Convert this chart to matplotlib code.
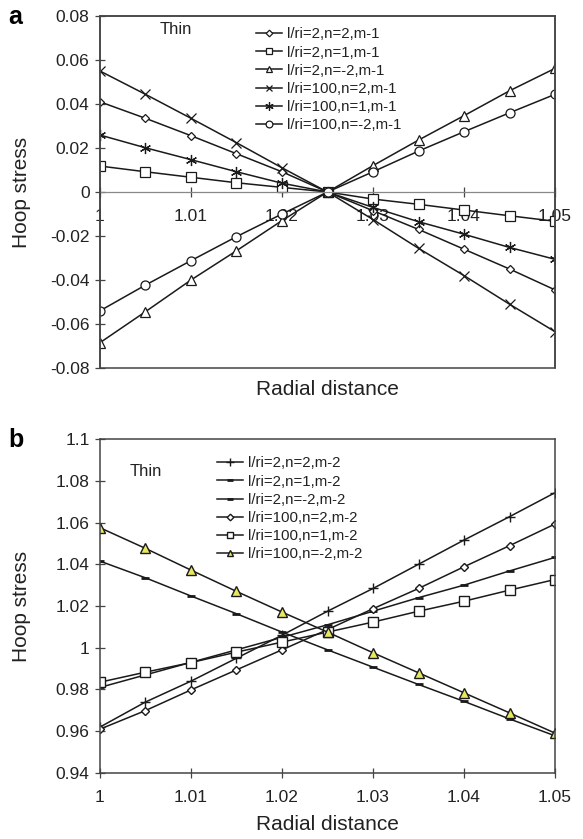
import numpy as np
import matplotlib.pyplot as plt
from matplotlib.patches import Rectangle

plt.rcParams['font.family'] = ['Liberation Sans', 'DejaVu Sans']

# radial positions (shared by both panels)
r = [1.0, 1.005, 1.01, 1.015, 1.02, 1.025, 1.03, 1.035, 1.04, 1.045, 1.05]

# panel a: hoop stress, m-1
a_labels = ['l/ri=2,n=2,m-1', 'l/ri=2,n=1,m-1', 'l/ri=2,n=-2,m-1',
            'l/ri=100,n=2,m-1', 'l/ri=100,n=1,m-1', 'l/ri=100,n=-2,m-1']
a_2_n2 = [0.041, 0.0335, 0.0256, 0.0174, 0.0092, 0.0, -0.0085, -0.017, -0.026, -0.035, -0.0445]
a_2_n1 = [0.0118, 0.0092, 0.0067, 0.0042, 0.0021, 0.0, -0.0032, -0.0056, -0.0082, -0.0108, -0.0133]
a_2_nm2 = [-0.0685, -0.0544, -0.040, -0.0267, -0.013, 0.0, 0.012, 0.0236, 0.0347, 0.046, 0.0562]
a_100_n2 = [0.055, 0.0444, 0.0335, 0.0224, 0.011, 0.0, -0.0125, -0.0256, -0.038, -0.051, -0.0635]
a_100_n1 = [0.0259, 0.0201, 0.0147, 0.0092, 0.004, 0.0, -0.007, -0.0135, -0.0192, -0.0252, -0.0306]
a_100_nm2 = [-0.054, -0.0423, -0.0312, -0.0203, -0.0100, 0.0, 0.0092, 0.0186, 0.0274, 0.036, 0.0444]

# panel b: hoop stress, m-2
b_labels = ['l/ri=2,n=2,m-2', 'l/ri=2,n=1,m-2', 'l/ri=2,n=-2,m-2',
            'l/ri=100,n=2,m-2', 'l/ri=100,n=1,m-2', 'l/ri=100,n=-2,m-2']
b_2_n2 = [0.962, 0.974, 0.984, 0.995, 1.006, 1.0175, 1.0284, 1.040, 1.0516, 1.0628, 1.0743]
b_2_n1 = [0.981, 0.987, 0.993, 0.999, 1.005, 1.011, 1.0175, 1.024, 1.030, 1.0368, 1.0433]
b_2_nm2 = [1.0415, 1.0335, 1.0248, 1.0163, 1.0075, 0.999, 0.9907, 0.9824, 0.9743, 0.9659, 0.9578]
b_100_n2 = [0.961, 0.9699, 0.9798, 0.9894, 0.999, 1.0087, 1.0187, 1.0284, 1.0388, 1.0489, 1.0593]
b_100_n1 = [0.9835, 0.9883, 0.9929, 0.9979, 1.0027, 1.0075, 1.0123, 1.0175, 1.0223, 1.0276, 1.0327]
b_100_nm2 = [1.0575, 1.0476, 1.0372, 1.027, 1.0171, 1.0075, 0.9976, 0.988, 0.9784, 0.9688, 0.9591]

fig = plt.figure(figsize=(5.83, 8.39), dpi=100)
ax1 = fig.add_axes([0.1715, 0.5614, 0.7805, 0.4195])
ax2 = fig.add_axes([0.1715, 0.0787, 0.7805, 0.398])

asterisk = (6, 2, 0)
a_series = [a_2_n2, a_2_n1, a_2_nm2, a_100_n2, a_100_n1, a_100_nm2]
a_marks = [('D', 4.5), ('s', 6.5), ('^', 6.5), ('x', 6.5), (asterisk, 8), ('o', 6.5)]
for y, lab, (m, ms) in zip(a_series, a_labels, a_marks):
    ax1.plot(r, y, color='#1a1a1a', lw=1.1, marker=m, ms=ms, mfc='white',
             mec='#1a1a1a', mew=0.9, label=lab)

b_series = [b_2_n2, b_2_n1, b_2_nm2, b_100_n2, b_100_n1, b_100_nm2]
b_marks = [('+', 7, 'white'), ('_', 6, 'white'), ('_', 6, 'white'),
           ('D', 4.5, 'white'), ('s', 6.5, 'white'), ('^', 6.5, '#e8e860')]
for y, lab, (m, ms, fc) in zip(b_series, b_labels, b_marks):
    ax2.plot(r, y, color='#1a1a1a', lw=1.1, marker=m, ms=ms, mfc=fc,
             mec='#1a1a1a', mew=1.0 if m != '_' else 2.0, label=lab)

for ax in (ax1, ax2):
    ax.set_xlim(1.0, 1.05)
    ax.set_xticks([1.0, 1.01, 1.02, 1.03, 1.04, 1.05])
    ax.set_xticklabels(['1', '1.01', '1.02', '1.03', '1.04', '1.05'])
    ax.tick_params(axis='both', direction='inout', length=7, width=0.9,
                   colors='#444444', labelsize=12.5, labelcolor='#222222')
    ax.tick_params(axis='y', pad=4)
    ax.tick_params(axis='x', pad=9)
    ax.set_ylabel('Hoop stress', fontsize=15, color='#222222')
    ax.yaxis.set_label_coords(-0.152, 0.5)
    for s in ax.spines.values():
        s.set_color('#444444')
        s.set_linewidth(1.1)
    leg = ax.legend(loc='upper left', frameon=False, fontsize=10.8,
                    handlelength=1.7, handletextpad=0.35, labelspacing=0.28,
                    markerscale=0.75, borderaxespad=0)
    for t in leg.get_texts():
        t.set_color('#222222')

ax1.set_ylim(-0.08, 0.08)
ax1.set_yticks(np.arange(-0.08, 0.081, 0.02))
ax1.set_yticklabels(['-0.08', '-0.06', '-0.04', '-0.02', '0', '0.02', '0.04', '0.06', '0.08'])
ax1.spines['bottom'].set_position(('data', 0))
ax1.spines['bottom'].set_color('#888888')
ax1.spines['bottom'].set_linewidth(0.9)
ax1.add_patch(Rectangle((0, 0), 1, 1, transform=ax1.transAxes, fill=False,
                        ec='#444444', lw=1.1, clip_on=False, zorder=3))
ax1.get_legend().set_bbox_to_anchor((0.33, 0.985))
ax1.set_xlabel('Radial distance', fontsize=15, color='#222222')
ax1.xaxis.set_label_coords(0.5, -0.035)
ax1.text(0.13, 0.95, 'Thin', transform=ax1.transAxes, fontsize=12, color='#222222')

ax2.set_ylim(0.94, 1.1)
ax2.set_yticks(np.arange(0.94, 1.101, 0.02))
ax2.set_yticklabels(['0.94', '0.96', '0.98', '1', '1.02', '1.04', '1.06', '1.08', '1.1'])
ax2.get_legend().set_bbox_to_anchor((0.245, 0.966))
ax2.set_xlabel('Radial distance', fontsize=15, color='#222222')
ax2.xaxis.set_label_coords(0.5, -0.125)
ax2.text(0.066, 0.89, 'Thin', transform=ax2.transAxes, fontsize=12, color='#222222')

fig.text(0.015, 0.98, 'a', fontsize=18, fontweight='bold', va='center')
fig.text(0.015, 0.476, 'b', fontsize=18, fontweight='bold', va='center')

fig.savefig('out.png', dpi=100)
